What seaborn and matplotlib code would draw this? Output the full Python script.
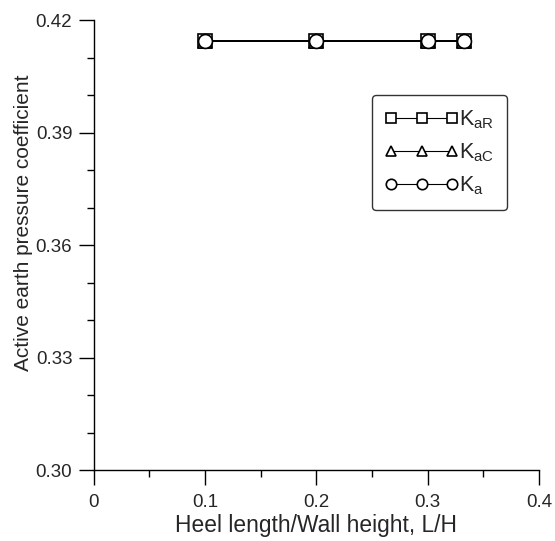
import numpy as np
import pandas as pd
import seaborn as sns
import matplotlib.pyplot as plt
from matplotlib.ticker import MultipleLocator, FixedLocator

# ── Data ──────────────────────────────────────────────────────────────────────
heel_ratio = [0.1, 0.2, 0.3, 0.333]
K_aR = [0.4145, 0.4145, 0.4145, 0.4145]
K_aC = [0.4145, 0.4145, 0.4145, 0.4145]
K_a  = [0.4145, 0.4145, 0.4145, 0.4145]

series = [(r"$\mathregular{K_{aR}}$", K_aR, "s"),
          (r"$\mathregular{K_{aC}}$", K_aC, "^"),
          (r"$\mathregular{K_a}$",    K_a,  "o")]

sns.set_theme(style="white")
plt.rcParams["font.family"] = ["Liberation Sans", "DejaVu Sans"]
plt.rcParams["mathtext.fontset"] = "custom"
plt.rcParams["mathtext.rm"] = "Liberation Sans"

fig = plt.figure(figsize=(5.55, 5.41), dpi=100)
ax = fig.add_axes([0.169, 0.131, 0.802, 0.832])

for name, vals, mk in series:
    df = pd.DataFrame({"x": heel_ratio, "y": vals})
    sns.lineplot(data=df, x="x", y="y", ax=ax, color="black", lw=1.2,
                 marker=mk, markersize=10, markerfacecolor="white",
                 markeredgecolor="black", markeredgewidth=1.2, label=name)

ax.set_xlim(0, 0.4)
ax.set_ylim(0.30, 0.42)
ax.xaxis.set_major_locator(FixedLocator([0, 0.1, 0.2, 0.3, 0.4]))
ax.set_xticklabels(["0", "0.1", "0.2", "0.3", "0.4"])
ax.xaxis.set_minor_locator(MultipleLocator(0.05))
ax.yaxis.set_major_locator(MultipleLocator(0.03))
ax.yaxis.set_minor_locator(MultipleLocator(0.01))
ax.yaxis.set_major_formatter(plt.FormatStrFormatter("%.2f"))

for s in ["top", "right"]:
    ax.spines[s].set_visible(False)
for s in ["left", "bottom"]:
    ax.spines[s].set_color("black")
    ax.spines[s].set_linewidth(1.0)

ax.tick_params(axis="both", which="major", direction="out", length=10.5,
               width=1, color="black", labelsize=13.5)
ax.tick_params(axis="both", which="minor", direction="out", length=5,
               width=1, color="black")
ax.tick_params(axis="y", which="both", left=True, pad=5)
ax.tick_params(axis="x", which="both", bottom=True, pad=7)

ax.set_xlabel("Heel length/Wall height, L/H", fontsize=16.4, labelpad=2)
ax.set_ylabel("Active earth pressure coefficient", fontsize=15)
ax.yaxis.set_label_coords(-0.137, 0.55)

leg = ax.legend(loc="upper left", bbox_to_anchor=(0.625, 0.833), numpoints=3,
                handlelength=3.4, fontsize=15.5, frameon=True, fancybox=True,
                edgecolor="black", borderpad=0.6, labelspacing=0.5,
                handletextpad=0.05, borderaxespad=0)
leg.get_frame().set_linewidth(1.0)
for h in leg.get_lines():
    h.set_linewidth(0.8)
    h.set_markersize(7.5)

fig.savefig("out.png", dpi=100)
